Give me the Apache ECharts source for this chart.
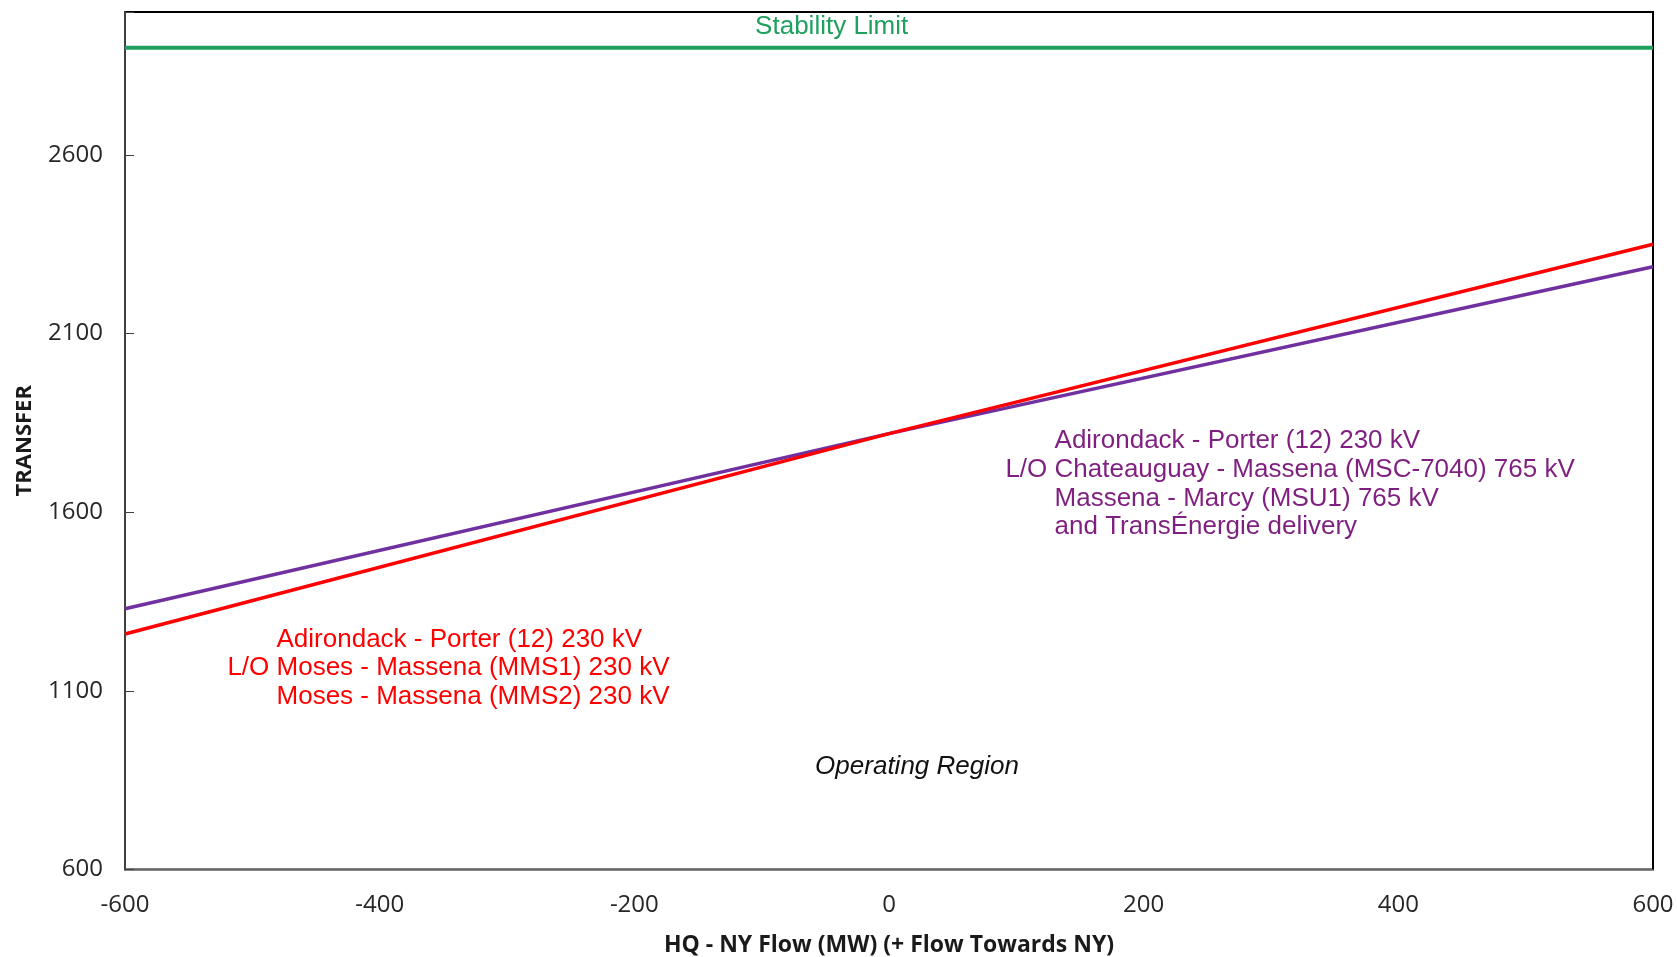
<!DOCTYPE html>
<html>
<head>
<meta charset="utf-8">
<script src="https://cdn.jsdelivr.net/npm/echarts@6/dist/echarts.min.js"></script>
<style>
html,body{margin:0;padding:0;background:#fff;}
#chart{width:1677px;height:957px;}
</style>
</head>
<body>
<div id="chart"></div>
<script>
// ---- data ----
const xTicks = [-600, -400, -200, 0, 200, 400, 600];
const yTicks = [600, 1100, 1600, 2100, 2600];
const redFlow = [-600, 0, 600];
const redTransfer = [1259, 1820, 2350];
const purpleFlow = [-600, 0, 600];
const purpleTransfer = [1330, 1820, 2287];
const stabilityFlow = [-600, 600];
const stabilityLimit = [2900, 2900];

const xTitle = 'HQ - NY Flow (MW) (+ Flow Towards NY)';
const yTitle = 'TRANSFER';
const stabilityLabel = 'Stability Limit';
const regionLabel = 'Operating Region';
const redNoteLines = ['Adirondack - Porter (12) 230 kV', 'L/O Moses - Massena (MMS1) 230 kV', 'Moses - Massena (MMS2) 230 kV'];
const purpleNoteLines = ['Adirondack - Porter (12) 230 kV', 'L/O Chateauguay - Massena (MSC-7040) 765 kV', 'Massena - Marcy (MSU1) 765 kV', 'and TransÉnergie delivery'];
// annotation anchors in data space (flow, transfer)
const redNoteAnchor = [-481, 1244];
const purpleNoteAnchor = [130, 1800];
const regionAnchor = [22, 888];
const stabilityAnchor = [-45, 2959];

const RED = '#FF0000', PURPLE_LINE = '#7030A0', PURPLE_TEXT = '#7F1F7F', GREEN = '#1FA05F';
const NOTE_FONT = '26px "Liberation Sans", Arial, sans-serif';

const chart = echarts.init(document.getElementById('chart'));
const zip = (a, b) => a.map((v, i) => [v, b[i]]);

chart.setOption({
  backgroundColor: '#fff',
  animation: false,
  grid: {left: 125, right: 24, top: 12, bottom: 87.5, show: true, borderColor: '#000', borderWidth: 2,
    backgroundColor: 'transparent', containLabel: false, outerBoundsMode: 'none'},
  xAxis: {
    type: 'value', min: -600, max: 600, interval: 200,
    name: xTitle, nameLocation: 'middle', nameGap: 64,
    nameTextStyle: {fontFamily: 'Open Sans', fontWeight: 'bold', fontSize: 23, color: '#1a1a1a'},
    axisLine: {show: true, onZero: false, lineStyle: {color: '#8a8a8a', width: 1.5}},
    axisTick: {show: false},
    splitLine: {show: false},
    axisLabel: {fontFamily: 'Open Sans', fontSize: 24, color: '#262626', margin: 24,
      formatter: v => xTicks.includes(v) ? String(v) : ''}
  },
  yAxis: {
    type: 'value', min: 600, max: 3000, interval: 500,
    name: yTitle, nameLocation: 'middle', nameGap: 89, nameRotate: 90,
    nameTextStyle: {fontFamily: 'Open Sans', fontWeight: 'bold', fontSize: 22, color: '#1a1a1a'},
    axisLine: {show: true, onZero: false, lineStyle: {color: '#404040', width: 2}},
    axisTick: {show: true, inside: true, length: 9, lineStyle: {color: '#404040', width: 1}},
    splitLine: {show: false},
    axisLabel: {fontFamily: 'Open Sans', fontSize: 24, color: '#262626', margin: 22,
      formatter: v => yTicks.includes(v) ? String(v) : ''}
  },
  series: [
    {type: 'line', name: 'Stability', data: zip(stabilityFlow, stabilityLimit), symbol: 'none',
      lineStyle: {color: GREEN, width: 4}, z: 3},
    {type: 'line', name: 'Purple', data: zip(purpleFlow, purpleTransfer), symbol: 'none',
      lineStyle: {color: PURPLE_LINE, width: 3.5}, z: 3},
    {type: 'line', name: 'Red', data: zip(redFlow, redTransfer), symbol: 'none',
      lineStyle: {color: RED, width: 3.5}, z: 4}
  ]
});

function measure(text, font) {
  const c = document.createElement('canvas').getContext('2d');
  c.font = font;
  return c.measureText(text).width;
}

function noteBlock(lines, anchor, color) {
  const p = chart.convertToPixel({gridIndex: 0}, anchor);
  const hang = measure('L/O ', NOTE_FONT);
  const lh = 28.8;
  return lines.map((t, i) => ({
    type: 'text', z: 10,
    x: p[0] - (t.startsWith('L/O ') ? hang : 0),
    y: p[1] + i * lh,
    style: {text: t, fill: color, font: NOTE_FONT, align: 'left', verticalAlign: 'middle'}
  }));
}

const sp = chart.convertToPixel({gridIndex: 0}, stabilityAnchor);
const rp = chart.convertToPixel({gridIndex: 0}, regionAnchor);
chart.setOption({
  graphic: [
    {type: 'text', z: 10, x: sp[0], y: sp[1],
      style: {text: stabilityLabel, fill: GREEN, font: NOTE_FONT, align: 'center', verticalAlign: 'middle'}},
    {type: 'text', z: 10, x: rp[0], y: rp[1],
      style: {text: regionLabel, fill: '#111', font: 'italic ' + NOTE_FONT, align: 'center', verticalAlign: 'middle'}},
    ...noteBlock(redNoteLines, redNoteAnchor, RED),
    ...noteBlock(purpleNoteLines, purpleNoteAnchor, PURPLE_TEXT)
  ]
});
</script>
</body>
</html>
